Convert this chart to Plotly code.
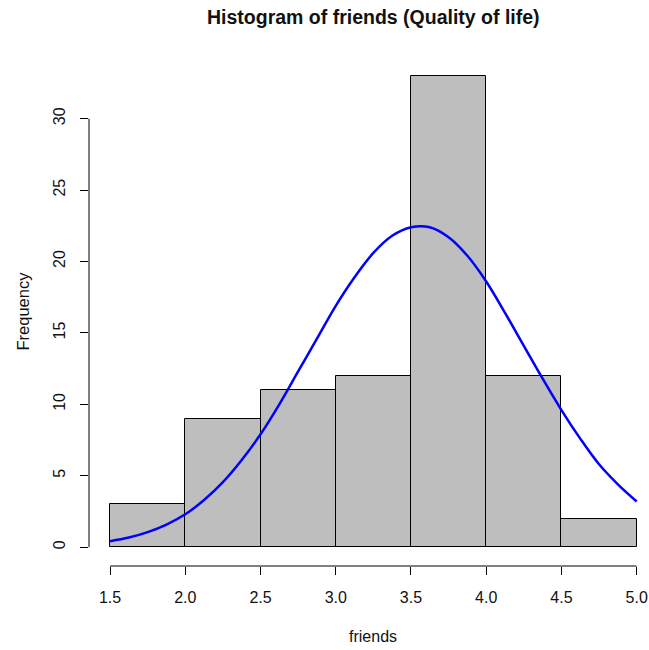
import plotly.graph_objects as go

# Histogram data
bin_edges = [1.5, 2.0, 2.5, 3.0, 3.5, 4.0, 4.5, 5.0]
counts = [3, 9, 11, 12, 33, 12, 2]

# Fitted normal curve
curve_x = [1.5, 1.625, 1.75, 1.875, 2.0, 2.125, 2.25, 2.375, 2.5, 2.625, 2.75, 2.875,
           3.0, 3.125, 3.25, 3.375, 3.5, 3.625, 3.75, 3.875, 4.0, 4.125, 4.25, 4.375,
           4.5, 4.625, 4.75, 4.875, 5.0]
curve_y = [0.42, 0.67, 1.05, 1.58, 2.3, 3.3, 4.55, 6.1, 7.9, 10.0, 12.3, 14.6,
           16.9, 18.9, 20.6, 21.8, 22.4, 22.4, 21.7, 20.4, 18.6, 16.4, 14.1, 11.8,
           9.6, 7.6, 5.8, 4.4, 3.2]

x_ticks = [1.5, 2.0, 2.5, 3.0, 3.5, 4.0, 4.5, 5.0]
x_tick_labels = ["1.5", "2.0", "2.5", "3.0", "3.5", "4.0", "4.5", "5.0"]
y_ticks = [0, 5, 10, 15, 20, 25, 30]
y_tick_labels = ["0", "5", "10", "15", "20", "25", "30"]

title = "Histogram of friends (Quality of life)"
x_title = "friends"
y_title = "Frequency"

centers = [(a + b) / 2 for a, b in zip(bin_edges[:-1], bin_edges[1:])]
widths = [b - a for a, b in zip(bin_edges[:-1], bin_edges[1:])]

FONT = "Liberation Sans, Arial, sans-serif"

fig = go.Figure()
fig.add_trace(go.Bar(
    x=centers, y=counts, width=widths,
    marker=dict(color="#BEBEBE", line=dict(color="black", width=1)),
    hoverinfo="skip",
))
fig.add_trace(go.Scatter(
    x=curve_x, y=curve_y, mode="lines",
    line=dict(color="#0000FF", width=2.5, shape="spline"),
    hoverinfo="skip",
))

W, H = 649, 650
L, R, T, B = 89, 0, 57, 84

fig.update_layout(
    width=W, height=H,
    margin=dict(l=L, r=R, t=T, b=B, pad=0),
    paper_bgcolor="white", plot_bgcolor="white",
    showlegend=False,
    font=dict(family=FONT, size=16, color="#111111"),
    bargap=0,
    xaxis=dict(
        range=[1.36, 5.082], showgrid=False, zeroline=False, showline=False,
        tickmode="array", tickvals=x_ticks, ticktext=x_tick_labels,
        ticks="outside", ticklen=8, tickwidth=1, tickcolor="black",
        ticklabelstandoff=9,
        tickfont=dict(size=16, family=FONT, color="#111111"),
        fixedrange=True,
    ),
    yaxis=dict(
        range=[-1.32, 34.32], showgrid=False, zeroline=False, showline=False,
        tickmode="array", tickvals=y_ticks, ticktext=y_tick_labels,
        ticks="outside", ticklen=8, tickwidth=1, tickcolor="black",
        tickangle=-90, ticklabelstandoff=9,
        tickfont=dict(size=16, family=FONT, color="#111111"),
        fixedrange=True,
    ),
    annotations=[
        dict(text="<b>" + title + "</b>", xref="paper", yref="paper",
             x=(373 - L) / (W - L - R), y=1 + (T - 17) / (H - T - B),
             xanchor="center", yanchor="middle", showarrow=False,
             font=dict(size=19.5, family=FONT, color="#111111")),
        dict(text=x_title, xref="paper", yref="paper",
             x=(373 - L) / (W - L - R), y=-(636 - (H - B)) / (H - T - B),
             xanchor="center", yanchor="middle", showarrow=False,
             font=dict(size=16, family=FONT, color="#111111")),
        dict(text=y_title, xref="paper", yref="paper",
             x=-(L - 22) / (W - L - R), y=0.5, textangle=-90,
             xanchor="center", yanchor="middle", showarrow=False,
             font=dict(size=16.5, family=FONT, color="#111111")),
    ],
    shapes=[
        dict(type="line", xref="x", yref="paper",
             x0=x_ticks[0], x1=x_ticks[-1], y0=0, y1=0,
             line=dict(color="black", width=1)),
        dict(type="line", xref="paper", yref="y",
             x0=0, x1=0, y0=y_ticks[0], y1=y_ticks[-1],
             line=dict(color="black", width=1)),
    ],
)

fig.write_html("out.html")
